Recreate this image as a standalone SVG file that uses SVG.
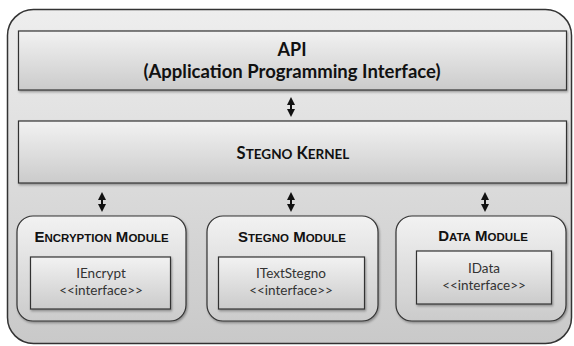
<svg xmlns="http://www.w3.org/2000/svg" width="574" height="346" viewBox="0 0 574 346">
<defs>
<linearGradient id="gOuter" x1="0" y1="0" x2="0" y2="1">
<stop offset="0" stop-color="#eeeeee"/>
<stop offset="1" stop-color="#c9c9c9"/>
</linearGradient>
<linearGradient id="gBox" x1="0" y1="0" x2="0" y2="1">
<stop offset="0" stop-color="#f2f2f2"/>
<stop offset="1" stop-color="#cbcbcb"/>
</linearGradient>
<filter id="sh" x="-5%" y="-5%" width="110%" height="120%">
<feDropShadow dx="1" dy="1.5" stdDeviation="1" flood-color="#000" flood-opacity="0.35"/>
</filter>
<marker id="ah" viewBox="0 0 8 8" refX="4" refY="4" markerWidth="8" markerHeight="8" markerUnits="userSpaceOnUse" orient="auto-start-reverse">
<path d="M0,0 L8,4 L0,8 z" fill="#111"/>
</marker>
</defs>
<style>
.box{fill:url(#gBox);stroke:#333;stroke-width:1.2;filter:url(#sh)}
.mod{fill:url(#gBox);stroke:#333;stroke-width:1.2;filter:url(#sh)}
.big{font-family:Lato,"Open Sans",sans-serif;font-weight:bold;fill:#111;text-anchor:middle}
.ttl{font-family:"Liberation Sans",Arial,sans-serif;font-weight:bold;fill:#111;text-anchor:middle;font-size:15px}
.sm{font-size:11.5px}
.in{font-family:Lato,"Open Sans",sans-serif;fill:#333;text-anchor:middle;font-size:13.5px}
.con{stroke:#111;stroke-width:2;fill:none;marker-start:url(#ah);marker-end:url(#ah)}
</style>
<rect x="7.5" y="9.5" width="564" height="334" rx="26" fill="url(#gOuter)" stroke="#333" stroke-width="1.5"/>
<g id="api">
<rect class="box" x="18.5" y="31" width="548" height="59"/>
<text class="big" x="292" y="56" font-size="18">API</text>
<text class="big" x="292" y="78" font-size="18.5">(Application Programming Interface)</text>
</g>
<g id="kernel">
<rect class="box" x="18.5" y="121" width="548" height="62"/>
<text class="big" x="293" y="159" font-size="16.5">S<tspan font-size="13.5">TEGNO</tspan> K<tspan font-size="13.5">ERNEL</tspan></text>
</g>
<g id="encryption">
<rect class="mod" x="17" y="216" width="169" height="105" rx="16"/>
<text class="ttl" x="101.5" y="242">E<tspan class="sm">NCRYPTION</tspan> M<tspan class="sm">ODULE</tspan></text>
<rect class="box" x="30.5" y="257" width="140" height="52"/>
<text class="in" x="101" y="278">IEncrypt</text>
<text class="in" x="101" y="295">&lt;&lt;interface&gt;&gt;</text>
</g>
<g id="stegno">
<rect class="mod" x="207" y="216" width="171" height="105" rx="16"/>
<text class="ttl" x="292" y="242">S<tspan class="sm">TEGNO</tspan> M<tspan class="sm">ODULE</tspan></text>
<rect class="box" x="218.5" y="257" width="146" height="52"/>
<text class="in" x="291" y="278">ITextStegno</text>
<text class="in" x="291" y="295">&lt;&lt;interface&gt;&gt;</text>
</g>
<g id="data">
<rect class="mod" x="396" y="216" width="170" height="105" rx="16"/>
<text class="ttl" x="483" y="241">D<tspan class="sm">ATA</tspan> M<tspan class="sm">ODULE</tspan></text>
<rect class="box" x="416.5" y="251" width="135" height="53"/>
<text class="in" x="484" y="273">IData</text>
<text class="in" x="484" y="290">&lt;&lt;interface&gt;&gt;</text>
</g>
<g id="connectors">
<line class="con" x1="291" y1="101" x2="291" y2="113"/>
<line class="con" x1="102" y1="196" x2="102" y2="208"/>
<line class="con" x1="291" y1="196" x2="291" y2="208"/>
<line class="con" x1="485" y1="196" x2="485" y2="208"/>
</g>
</svg>
